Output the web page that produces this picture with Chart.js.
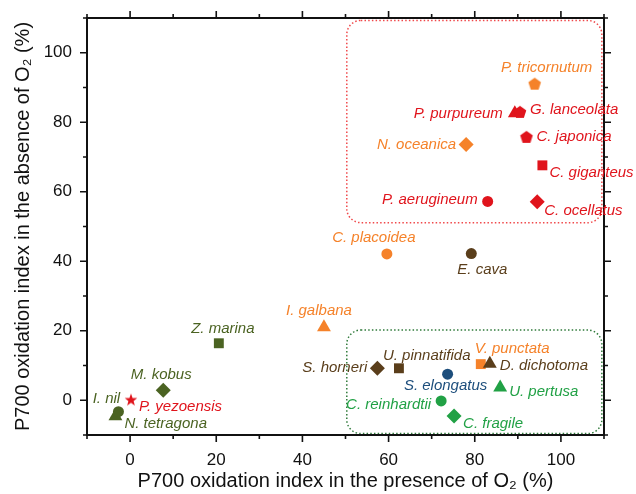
<!DOCTYPE html>
<html>
<head>
<meta charset="utf-8">
<script src="https://cdn.jsdelivr.net/npm/chart.js@4.4.1/dist/chart.umd.min.js"></script>
<style>
  html, body { margin: 0; padding: 0; background: #fff; }
  #wrap { width: 636px; height: 494px; }
</style>
</head>
<body>
<div id="wrap"><canvas id="chart"></canvas></div>
<script>
// Data
const species = [
  'P. tricornutum', 'P. purpureum', 'G. lanceolata', 'C. japonica', 'N. oceanica',
  'C. giganteus', 'P. aerugineum', 'C. ocellatus', 'C. placoidea', 'E. cava',
  'I. galbana', 'Z. marina', 'M. kobus', 'P. yezoensis', 'N. tetragona', 'I. nil',
  'S. horneri', 'U. pinnatifida', 'V. punctata', 'D. dichotoma', 'S. elongatus',
  'U. pertusa', 'C. reinhardtii', 'C. fragile'
];
const withO2 = [
  93.9, 89.3, 90.5, 92.0, 78.0,
  95.7, 83.0, 94.5, 59.6, 79.2,
  45.0, 20.6, 7.7, 0.2, -3.4, -2.7,
  57.4, 62.4, 81.4, 83.5, 73.7,
  85.9, 72.2, 75.2
];
const withoutO2 = [
  91.1, 82.6, 83.0, 75.8, 73.6,
  67.6, 57.2, 57.1, 42.1, 42.2,
  21.0, 16.4, 2.9, 0.2, -4.6, -3.3,
  9.2, 9.2, 10.4, 10.5, 7.5,
  3.7, -0.2, -4.5
];
const lineage = [
  'orange', 'red', 'red', 'red', 'orange',
  'red', 'red', 'red', 'orange', 'brown',
  'orange', 'olive', 'olive', 'red', 'olive', 'olive',
  'brown', 'brown', 'orange', 'brown', 'blue',
  'green', 'green', 'green'
];
const marker = [
  'pentagon', 'triangle', 'pentagon', 'pentagon', 'diamond',
  'square', 'circle', 'diamond', 'circle', 'circle',
  'triangle', 'square', 'diamond', 'star', 'triangle', 'circle',
  'diamond', 'square', 'square', 'triangle', 'circle',
  'triangle', 'circle', 'diamond'
];
const tickValues = [0, 20, 40, 60, 80, 100];
const minorTickValues = [-10, 10, 30, 50, 70, 90, 110];
// highlighted regions (data units)
const regions = [
  { x0: 50.3, x1: 109.5, y0: 51.1, y1: 109.3, color: '#f0494b' },
  { x0: 50.3, x1: 109.5, y0: -9.6, y1: 20.2, color: '#2f7a3a' }
];

const colors = {
  red: '#e0141c',
  orange: '#f5822a',
  brown: '#5a3e1b',
  olive: '#4b6322',
  green: '#21a145',
  blue: '#1d4e7c'
};

// label placement relative to the point, in px: [dx, dy, align]
const labelPos = {
  'P. tricornutum': [12, -16, 'center'],
  'P. purpureum': [-12, 1, 'right'],
  'G. lanceolata': [10, -2, 'left'],
  'C. japonica': [10, 0, 'left'],
  'N. oceanica': [-10, 0, 'right'],
  'C. giganteus': [7, 7, 'left'],
  'P. aerugineum': [-10, -2, 'right'],
  'C. ocellatus': [7, 9, 'left'],
  'C. placoidea': [-13, -16, 'center'],
  'E. cava': [11, 16, 'center'],
  'I. galbana': [-5, -16, 'center'],
  'Z. marina': [4, -14, 'center'],
  'M. kobus': [-2, -15, 'center'],
  'P. yezoensis': [8, 7, 'left'],
  'N. tetragona': [9, 8, 'left'],
  'I. nil': [-12, -13, 'center'],
  'S. horneri': [-10, 0, 'right'],
  'U. pinnatifida': [-16, -12, 'left'],
  'V. punctata': [-6, -15, 'left'],
  'D. dichotoma': [10, 2, 'left'],
  'S. elongatus': [-2, 12, 'center'],
  'U. pertusa': [9, 4, 'left'],
  'C. reinhardtii': [-10, 4, 'right'],
  'C. fragile': [9, 8, 'left']
};

function shapeCanvas(kind, color) {
  const s = 16;
  const cv = document.createElement('canvas');
  cv.width = s; cv.height = s;
  const g = cv.getContext('2d');
  g.fillStyle = color;
  g.beginPath();
  if (kind === 'pentagon') {
    for (let i = 0; i < 5; i++) {
      const a = -Math.PI / 2 + i * 2 * Math.PI / 5;
      g.lineTo(8 + 6.6 * Math.cos(a), 8.6 + 6.6 * Math.sin(a));
    }
  } else {
    for (let i = 0; i < 10; i++) {
      const a = -Math.PI / 2 + i * Math.PI / 5;
      const r = i % 2 ? 2.7 : 6.6;
      g.lineTo(8 + r * Math.cos(a), 8.6 + r * Math.sin(a));
    }
  }
  g.closePath();
  g.fill();
  return cv;
}

const styleOf = (kind, color) => {
  if (kind === 'pentagon' || kind === 'star') return shapeCanvas(kind, color);
  return { circle: 'circle', square: 'rect', diamond: 'rectRot', triangle: 'triangle' }[kind];
};
const radiusOf = { circle: 5.5, square: 7, diamond: 7.5, triangle: 8, pentagon: 7, star: 7 };

const pointColors = lineage.map(l => colors[l]);

const frameAndLabels = {
  id: 'frameAndLabels',
  beforeDatasetsDraw(chart) {
    const { ctx, scales: { x, y } } = chart;
    ctx.save();
    ctx.lineWidth = 1.5;
    ctx.setLineDash([1.5, 2.2]);
    regions.forEach(r => {
      const l = x.getPixelForValue(r.x0), rt = x.getPixelForValue(r.x1);
      const t = y.getPixelForValue(r.y1), b = y.getPixelForValue(r.y0);
      ctx.strokeStyle = r.color;
      ctx.beginPath();
      ctx.roundRect(l, t, rt - l, b - t, 14);
      ctx.stroke();
    });
    ctx.restore();
  },
  afterDatasetsDraw(chart) {
    const { ctx, chartArea: a, scales: { x, y } } = chart;
    ctx.save();
    // frame
    ctx.strokeStyle = '#111';
    ctx.lineWidth = 2;
    ctx.strokeRect(a.left, a.top, a.right - a.left, a.bottom - a.top);
    ctx.lineWidth = 1.6;
    // ticks, pointing outwards on all four sides
    const tick = (v, len) => {
      const px = x.getPixelForValue(v), py = y.getPixelForValue(v);
      ctx.beginPath();
      ctx.moveTo(px, a.bottom); ctx.lineTo(px, a.bottom + len);
      ctx.moveTo(px, a.top); ctx.lineTo(px, a.top - len);
      ctx.moveTo(a.left, py); ctx.lineTo(a.left - len, py);
      ctx.moveTo(a.right, py); ctx.lineTo(a.right + len, py);
      ctx.stroke();
    };
    tickValues.forEach(v => tick(v, 7));
    minorTickValues.forEach(v => tick(v, 4));
    // species labels
    const pts = chart.getDatasetMeta(0).data;
    ctx.font = 'italic 15px "Liberation Sans", Arial, sans-serif';
    ctx.textBaseline = 'middle';
    species.forEach((name, i) => {
      const [dx, dy, align] = labelPos[name];
      ctx.fillStyle = pointColors[i];
      ctx.textAlign = align;
      ctx.fillText(name, pts[i].x + dx, pts[i].y + dy);
    });
    ctx.restore();
  }
};

const axisFont = { family: '"Liberation Sans", Arial, sans-serif', size: 17 };
const titleFont = { family: '"Liberation Sans", Arial, sans-serif', size: 20 };

new Chart(document.getElementById('chart'), {
  type: 'scatter',
  data: {
    datasets: [{
      data: species.map((s, i) => ({ x: withO2[i], y: withoutO2[i] })),
      backgroundColor: pointColors,
      borderWidth: 0,
      pointStyle: marker.map((m, i) => styleOf(m, pointColors[i])),
      pointRadius: marker.map(m => radiusOf[m])
    }]
  },
  options: {
    responsive: true,
    maintainAspectRatio: false,
    animation: false,
    layout: { padding: { top: 18, right: 32, left: 0, bottom: 0 } },
    plugins: { legend: { display: false }, tooltip: { enabled: false } },
    scales: {
      x: {
        type: 'linear',
        min: -10, max: 110,
        afterBuildTicks: s => { s.ticks = tickValues.map(v => ({ value: v })); },
        afterFit: s => { s.height = 59; },
        grid: { display: false },
        border: { display: false },
        ticks: { color: '#111', font: axisFont, padding: 7 },
        title: {
          display: true,
          text: 'P700 oxidation index in the presence of O₂ (%)',
          color: '#111', font: titleFont, padding: { top: 0, bottom: 1 }
        }
      },
      y: {
        type: 'linear',
        min: -10, max: 110,
        afterBuildTicks: s => { s.ticks = tickValues.map(v => ({ value: v })); },
        afterFit: s => { s.width = 87; },
        grid: { display: false },
        border: { display: false },
        ticks: { color: '#111', font: axisFont, padding: 7 },
        title: {
          display: true,
          text: 'P700 oxidation index in the absence of O₂ (%)',
          color: '#111', font: titleFont, padding: { top: 11, bottom: 0 }
        }
      }
    }
  },
  plugins: [frameAndLabels]
});
</script>
</body>
</html>
